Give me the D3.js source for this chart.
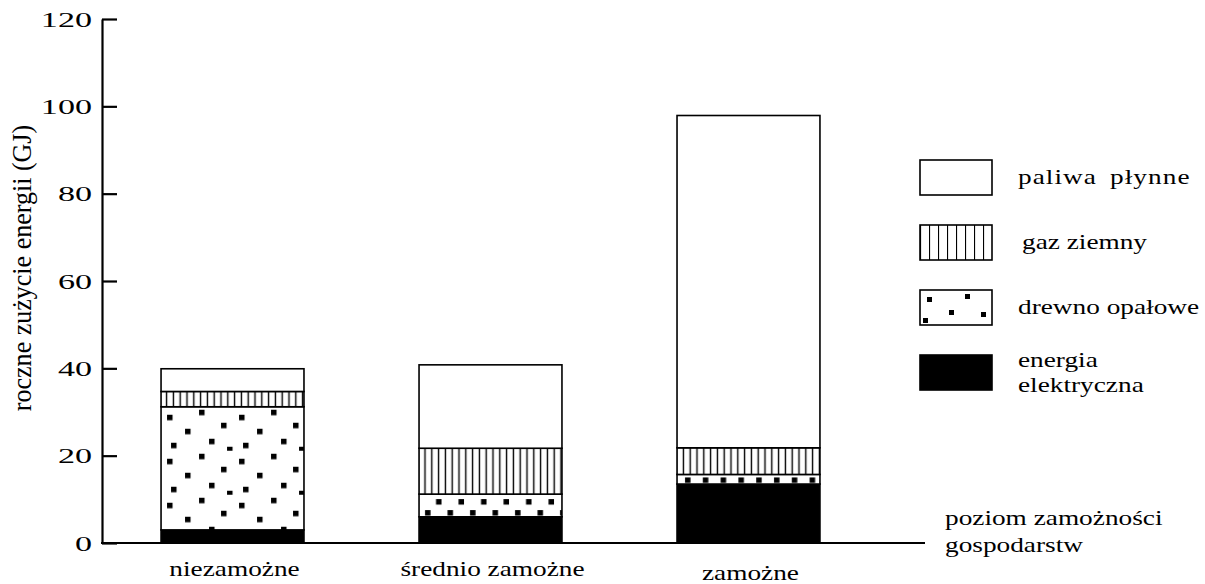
<!DOCTYPE html>
<html><head><meta charset="utf-8">
<script src="https://cdn.jsdelivr.net/npm/d3@7"></script>
<style>
html,body{margin:0;padding:0;background:#fff;}
</style></head>
<body><svg id="chart" width="1205" height="584"></svg>
<script>
// ---- data ----
const categories = ["niezamożne", "średnio zamożne", "zamożne"];
const seriesNames = ["energia elektryczna", "drewno opałowe", "gaz ziemny", "paliwa płynne"];
const energiaElektryczna = [3, 6, 13.5];
const drewnoOpalowe = [28.2, 5.2, 2.2];
const gazZiemny = [3.5, 10.5, 6.1];
const paliwaPlynne = [5.2, 19.1, 76.1];
const yTicks = [0, 20, 40, 60, 80, 100, 120];
const yLabel = "roczne zużycie energii (GJ)";
const xLabelLines = ["poziom zamożności", "gospodarstw"];
const legendOrder = ["paliwa płynne", "gaz ziemny", "drewno opałowe", "energia elektryczna"];
const legendLabelLines = {"paliwa płynne":["paliwa płynne"], "gaz ziemny":["gaz ziemny"], "drewno opałowe":["drewno opałowe"], "energia elektryczna":["energia","elektryczna"]};

const FONT = '"Liberation Serif"';
const SX = 1.3;
const svg = d3.select("#chart");
const y = d3.scaleLinear().domain([0, 120]).range([543, 19]);
const x = d3.scaleBand().domain(categories).range([103, 878]).paddingInner(0.446).paddingOuter(0.225);

const rows = categories.map((c, i) => ({
  cat: c,
  "energia elektryczna": energiaElektryczna[i],
  "drewno opałowe": drewnoOpalowe[i],
  "gaz ziemny": gazZiemny[i],
  "paliwa płynne": paliwaPlynne[i]
}));
const stacked = d3.stack().keys(seriesNames)(rows);

const defs = svg.append("defs");
const hatch = defs.append("pattern").attr("id", "hatch").attr("patternUnits", "userSpaceOnUse")
  .attr("width", 6.8).attr("height", 10);
hatch.append("rect").attr("width", 6.8).attr("height", 10).attr("fill", "#fff");
hatch.append("line").attr("x1", 3.4).attr("x2", 3.4).attr("y1", 0).attr("y2", 10).attr("stroke", "#000").attr("stroke-width", 1.4);

const hatchL = defs.append("pattern").attr("id", "hatchL").attr("patternUnits", "userSpaceOnUse")
  .attr("x", 920).attr("width", 9).attr("height", 10);
hatchL.append("rect").attr("width", 9).attr("height", 10).attr("fill", "#fff");
hatchL.append("line").attr("x1", 0).attr("x2", 0).attr("y1", 0).attr("y2", 10).attr("stroke", "#000").attr("stroke-width", 2.2);

const dotTiles = [
  {w: 72, h: 44, dots: [[6,8],[38,3],[60,16],[24,22],[48,32],[10,36],[66,40]]},
  {w: 22.5, h: 24, dots: [[17,5],[6,16]]},
  {w: 17.8, h: 30, dots: [[8,3]]}
];
const wood = stacked.find(s => s.key === "drewno opałowe");
dotTiles.forEach((t, i) => {
  const p = defs.append("pattern").attr("id", "dots" + i).attr("patternUnits", "userSpaceOnUse")
    .attr("x", x(categories[i])).attr("y", y(wood[i][1])).attr("width", t.w).attr("height", t.h);
  p.append("rect").attr("width", t.w).attr("height", t.h).attr("fill", "#fff");
  t.dots.forEach(d => p.append("rect").attr("x", d[0]).attr("y", d[1]).attr("width", 5.5).attr("height", 5.5).attr("fill", "#000"));
});

const fillFor = (key, i) => key === "energia elektryczna" ? "#000" : key === "gaz ziemny" ? "url(#hatch)" : key === "drewno opałowe" ? "url(#dots" + i + ")" : "#fff";

stacked.forEach(s => {
  svg.append("g").selectAll("rect").data(s).join("rect")
    .attr("x", (d, i) => x(categories[i]))
    .attr("y", d => y(d[1]))
    .attr("width", x.bandwidth())
    .attr("height", d => y(d[0]) - y(d[1]))
    .attr("fill", (d, i) => fillFor(s.key, i))
    .attr("stroke", "#000").attr("stroke-width", 1.6);
});

const yAxis = d3.axisLeft(y).tickValues(yTicks).tickSize(-15).tickSizeOuter(0).tickPadding(10);
const ga = svg.append("g").attr("transform", "translate(102,0)").call(yAxis);
ga.attr("font-family", FONT);
ga.select(".domain").attr("stroke-width", 2.2);
ga.selectAll(".tick line").attr("stroke-width", 2.2);
ga.selectAll(".tick text").attr("x", 0).attr("font-size", 22).attr("font-family", FONT).attr("fill", "#000")
  .attr("transform", "translate(-10,0) scale(1.55,1)");

svg.append("line").attr("x1", 101).attr("x2", 925).attr("y1", y(0)).attr("y2", y(0)).attr("stroke", "#000").attr("stroke-width", 2);

function stretchedText(parent, tx, ty, str, anchor, size) {
  return parent.append("text").attr("transform", `translate(${tx},${ty}) scale(${SX},1)`)
    .attr("font-family", FONT).attr("font-size", size || 21).attr("fill", "#000")
    .attr("text-anchor", anchor || "start").text(str);
}

categories.forEach((c, i) => stretchedText(svg, x(c) + x.bandwidth() / 2 + 2, i === 2 ? 580 : 576, c, "middle"));

svg.append("text").attr("transform", "translate(31,268) scale(1.3,1.24) rotate(-90)").attr("text-anchor", "middle")
  .attr("font-family", FONT).attr("font-size", 21).attr("fill", "#000").text(yLabel);

xLabelLines.forEach((t, i) => stretchedText(svg, 945, 525 + i * 27, t));

const legFill = {"paliwa płynne": "#fff", "gaz ziemny": "url(#hatchL)", "drewno opałowe": "#fff", "energia elektryczna": "#000"};
const lg = svg.append("g");
legendOrder.forEach((k, i) => {
  const top = 160 + i * 65;
  lg.append("rect").attr("x", 920).attr("y", top).attr("width", 72).attr("height", 35)
    .attr("fill", legFill[k]).attr("stroke", "#000").attr("stroke-width", 1.6);
  if (k === "drewno opałowe") {
    [[9,9],[47,6],[31,22],[63,24],[5,30]].forEach(d =>
      lg.append("rect").attr("x", 920 + d[0] - 2).attr("y", top + d[1] - 2).attr("width", 5).attr("height", 5).attr("fill", "#000"));
  }
  const lines = legendLabelLines[k];
  lines.forEach((t, j) => {
    const el = stretchedText(lg, k === "gaz ziemny" ? 1022 : 1018, lines.length === 1 ? top + 24 : top + 12 + j * 25, t);
    if (k === "paliwa płynne") el.attr("word-spacing", 4).attr("letter-spacing", 0.8);
  });
});
</script></body></html>
